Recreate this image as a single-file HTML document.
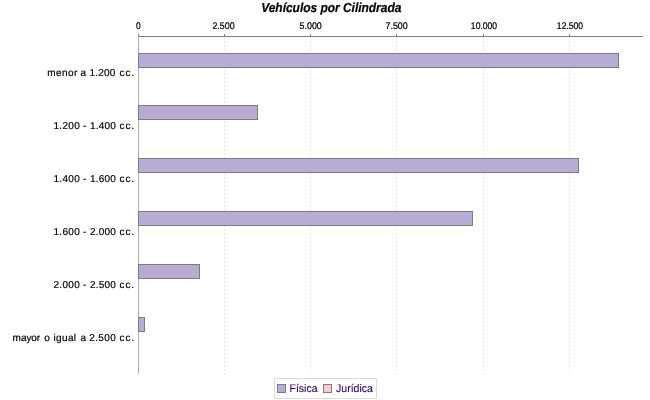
<!DOCTYPE html>
<html lang="es">
<head>
<meta charset="utf-8">
<title>Vehículos por Cilindrada</title>
<style>
html,body{margin:0;padding:0;background:#fff;}
body{width:650px;height:400px;overflow:hidden;}
svg{display:block;}
text{text-rendering:geometricPrecision;font-family:"Liberation Sans",Arial,Helvetica,sans-serif;fill:#000;}
.title{font-size:12px;font-weight:bold;font-style:italic;stroke:#000;stroke-width:0.2px;}
.tick{font-size:10px;stroke:#000;stroke-width:0.25px;}
.cat{font-size:10px;stroke:#000;stroke-width:0.18px;}
.leg{font-size:11px;fill:#2c0064;stroke:#2c0064;stroke-width:0.1px;}
</style>
</head>
<body>
<svg width="650" height="400" viewBox="0 0 650 400">
<rect x="0" y="0" width="650" height="400" fill="#ffffff"/>
<!-- title -->
<text class="title" transform="translate(261.2,11.8) scale(1,1.09)" textLength="140.2">Vehículos por Cilindrada</text>
<!-- gridlines -->
<g stroke="#e3e3e3" stroke-width="1" stroke-dasharray="2,2" shape-rendering="crispEdges">
<line x1="224.5" y1="37" x2="224.5" y2="374"/>
<line x1="310.5" y1="37" x2="310.5" y2="374"/>
<line x1="396.5" y1="37" x2="396.5" y2="374"/>
<line x1="483.5" y1="37" x2="483.5" y2="374"/>
<line x1="569.5" y1="37" x2="569.5" y2="374"/>
</g>
<!-- axes -->
<g stroke="#808080" stroke-width="1" shape-rendering="crispEdges">
<line x1="138" y1="36.5" x2="643" y2="36.5"/>
<line x1="138.5" y1="37" x2="138.5" y2="374" stroke="#acacac"/>
<line x1="138.5" y1="34" x2="138.5" y2="36"/>
<line x1="224.5" y1="34" x2="224.5" y2="36"/>
<line x1="310.5" y1="34" x2="310.5" y2="36"/>
<line x1="396.5" y1="34" x2="396.5" y2="36"/>
<line x1="483.5" y1="34" x2="483.5" y2="36"/>
<line x1="569.5" y1="34" x2="569.5" y2="36"/>
</g>
<!-- tick labels -->
<g class="tick" text-anchor="middle">
<text transform="translate(138.3,29) scale(0.84,0.96)">0</text>
<text transform="translate(223.5,29) scale(0.885,0.96)">2.500</text>
<text transform="translate(310.7,29) scale(0.885,0.96)">5.000</text>
<text transform="translate(396.6,29) scale(0.885,0.96)">7.500</text>
<text transform="translate(484,29) scale(0.86,0.96)">10.000</text>
<text transform="translate(570,29) scale(0.86,0.96)">12.500</text>
</g>
<!-- bars -->
<g fill="#b8acd6" stroke="#7c7c7c" stroke-width="1" shape-rendering="crispEdges">
<rect x="138.5" y="53.5" width="480" height="14"/>
<rect x="138.5" y="105.5" width="119" height="14"/>
<rect x="138.5" y="158.5" width="440" height="14"/>
<rect x="138.5" y="211.5" width="334" height="14"/>
<rect x="138.5" y="264.5" width="61" height="14"/>
<rect x="138.5" y="317.5" width="6" height="14"/>
</g>
<!-- category labels -->
<g class="cat">
<text y="76"><tspan x="47.3" textLength="30">menor</tspan> <tspan x="80.4" textLength="5.2">a</tspan> <tspan x="89.5" textLength="25.8">1.200</tspan> <tspan x="119.5" textLength="14.6">cc.</tspan></text>
<text y="129"><tspan x="53.4" textLength="26.3">1.200</tspan> <tspan x="82.9" textLength="2.9">-</tspan> <tspan x="89.9" textLength="26">1.400</tspan> <tspan x="119.5" textLength="14.6">cc.</tspan></text>
<text y="182"><tspan x="53.4" textLength="26.3">1.400</tspan> <tspan x="82.9" textLength="2.9">-</tspan> <tspan x="89.9" textLength="26">1.600</tspan> <tspan x="119.5" textLength="14.6">cc.</tspan></text>
<text y="235"><tspan x="53.4" textLength="26.3">1.600</tspan> <tspan x="82.9" textLength="2.9">-</tspan> <tspan x="89.9" textLength="26">2.000</tspan> <tspan x="119.5" textLength="14.6">cc.</tspan></text>
<text y="288"><tspan x="53.4" textLength="26.3">2.000</tspan> <tspan x="82.9" textLength="2.9">-</tspan> <tspan x="89.9" textLength="26">2.500</tspan> <tspan x="119.5" textLength="14.6">cc.</tspan></text>
<text y="341"><tspan x="12.6" textLength="27.6">mayor</tspan> <tspan x="44.3" textLength="5.2">o</tspan> <tspan x="53.5" textLength="22.6">igual</tspan> <tspan x="80.6" textLength="5.2">a</tspan> <tspan x="89.3" textLength="26.4">2.500</tspan> <tspan x="119.5" textLength="14.6">cc.</tspan></text>
</g>
<!-- legend -->
<rect x="274.5" y="378.5" width="102" height="20" fill="#ffffff" stroke="#dcdcdc" stroke-width="1" shape-rendering="crispEdges"/>
<rect x="277.5" y="384.5" width="8" height="8" fill="#b8acd6" stroke="#7c7c7c" stroke-width="1" shape-rendering="crispEdges"/>
<text class="leg" x="289.5" y="392" textLength="28" lengthAdjust="spacingAndGlyphs">Física</text>
<rect x="323.5" y="384.5" width="8" height="8" fill="#ffcccc" stroke="#7c7c7c" stroke-width="1" shape-rendering="crispEdges"/>
<text class="leg" x="336" y="392" textLength="37" lengthAdjust="spacingAndGlyphs">Jurídica</text>
</svg>
</body>
</html>
